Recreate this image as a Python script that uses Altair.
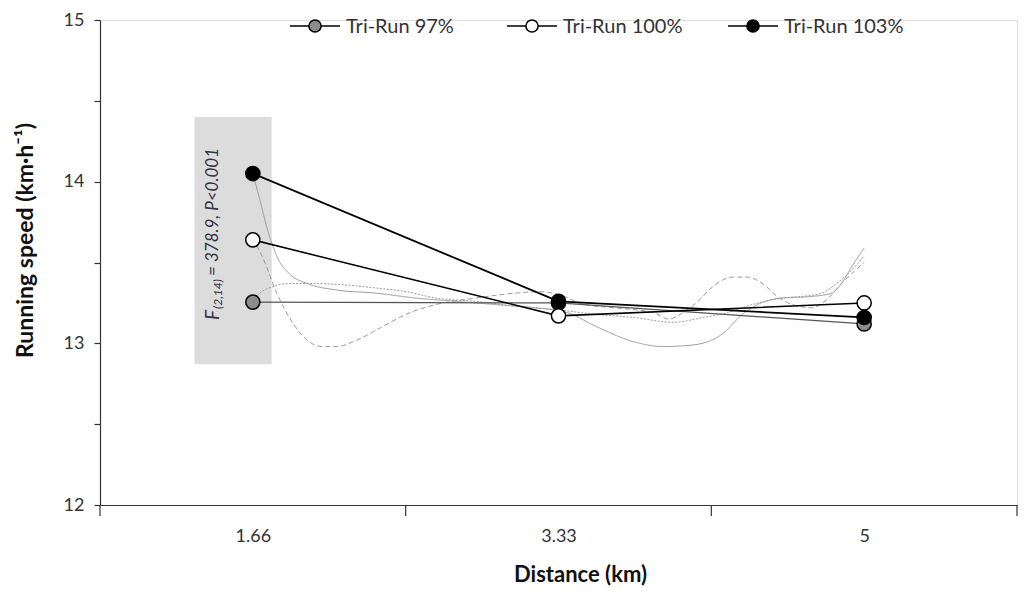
import altair as alt
import pandas as pd

FONT = "Lato"

# ---- data ----
series = ["Tri-Run 97%", "Tri-Run 100%", "Tri-Run 103%"]
dist_km = [1.66, 3.33, 5.0]
tick_labels = ["1.66", "3.33", "5"]
band_edges = [0.825, 2.495, 4.165, 5.835]
y_ticks = [12, 12.5, 13, 13.5, 14, 14.5, 15]

speed_97 = [13.255, 13.25, 13.12]
speed_100 = [13.64, 13.17, 13.25]
speed_103 = [14.05, 13.26, 13.16]

marker_fills = ["#8c8c8c", "#ffffff", "#000000"]
line_colors = ["#555555", "#000000", "#000000"]
line_widths = [1.3, 1.8, 1.8]

# thin individual-pace traces
trace_103_km = [1.66, 1.698, 1.741, 1.795, 1.860, 1.957, 2.119, 2.336, 2.552, 2.768, 2.984, 3.200,
                3.379, 3.525, 3.741, 3.903, 4.065, 4.227, 4.335, 4.417, 4.552, 4.714, 4.822, 4.876, 4.930, 5.0]
trace_103_v = [14.05, 13.89, 13.70, 13.53, 13.43, 13.37, 13.33, 13.31, 13.28, 13.26, 13.24, 13.22,
               13.19, 13.11, 13.01, 12.98, 12.99, 13.06, 13.18, 13.24, 13.28, 13.29, 13.31, 13.37, 13.47, 13.59]

trace_100_km = [1.66, 1.714, 1.795, 1.876, 1.957, 2.038, 2.119, 2.228, 2.363, 2.498, 2.660, 2.876,
                3.092, 3.227, 3.336, 3.471, 3.633, 3.849, 3.930, 4.011, 4.092, 4.173, 4.281, 4.362,
                4.444, 4.525, 4.606, 4.714, 4.795, 4.876, 5.0]
trace_100_v = [13.65, 13.53, 13.30, 13.13, 13.02, 12.98, 12.98, 13.02, 13.10, 13.18, 13.24, 13.28,
               13.31, 13.32, 13.30, 13.24, 13.22, 13.19, 13.15, 13.19, 13.26, 13.35, 13.41, 13.41,
               13.37, 13.29, 13.24, 13.22, 13.27, 13.37, 13.50]

trace_97_km = [1.66, 1.698, 1.768, 1.849, 1.995, 2.173, 2.352, 2.498, 2.660, 2.876, 3.092, 3.309,
               3.525, 3.741, 3.957, 4.119, 4.254, 4.389, 4.552, 4.660, 4.768, 4.849, 4.930, 5.0]
trace_97_v = [13.26, 13.31, 13.35, 13.37, 13.37, 13.36, 13.34, 13.32, 13.28, 13.26, 13.23, 13.21,
              13.18, 13.16, 13.13, 13.16, 13.19, 13.24, 13.28, 13.29, 13.31, 13.37, 13.45, 13.54]

trace_names = ["t103", "t100", "t97"]
trace_dashes = [[1, 0], [5, 3], [2, 1.5]]

# shaded statistics box
box_km = [1.341, 1.763]
box_v = [12.87, 14.40]
stat_anchor = [1.444, 13.145]

# ---- tables ----
means = pd.DataFrame({
    "series": [s for s in series for _ in dist_km],
    "order": [i for i in range(3) for _ in dist_km],
    "km": dist_km * 3,
    "v": speed_97 + speed_100 + speed_103,
})
traces = pd.DataFrame({
    "trace": ["t103"] * len(trace_103_km) + ["t100"] * len(trace_100_km) + ["t97"] * len(trace_97_km),
    "km": trace_103_km + trace_100_km + trace_97_km,
    "v": trace_103_v + trace_100_v + trace_97_v,
})
box = pd.DataFrame({"x1": [box_km[0]], "x2": [box_km[1]], "y1": [box_v[0]], "y2": [box_v[1]]})
edges = pd.DataFrame({"km": band_edges})
anchor = pd.DataFrame({"km": [stat_anchor[0]], "v": [stat_anchor[1]]})
one_row = pd.DataFrame({"k": [0]})

W, H = 917, 485
xscale = alt.Scale(domain=[band_edges[0], band_edges[-1]], nice=False, zero=False)
yscale = alt.Scale(domain=[y_ticks[0], y_ticks[-1]], nice=False, zero=False)

label_expr = " : ".join(
    f"datum.value < {v + 0.1} ? '{t}'" for v, t in zip(dist_km[:-1], tick_labels[:-1])
) + f" : '{tick_labels[-1]}'"

x_axis = alt.Axis(
    values=dist_km, labelExpr=label_expr, ticks=False, grid=False,
    domainColor="#333333", domainWidth=1.2,
    labelFont=FONT, labelFontSize=18, labelColor="#333333", labelPadding=22,
    title="Distance (km)", titleFont=FONT, titleFontSize=22, titleFontWeight="bold",
    titleColor="#111111", titleX=480, titleY=69, titleBaseline="middle",
)
y_axis = alt.Axis(
    values=y_ticks, labelExpr="datum.value % 1 === 0 ? toString(datum.value) : ''",
    labelOverlap=False, grid=False, tickSize=6, tickColor="#333333", tickWidth=1.2,
    domainColor="#333333", domainWidth=1.2,
    labelFont=FONT, labelFontSize=18, labelColor="#333333", labelPadding=10,
    title="Running speed (km·h⁻¹)", titleFont=FONT, titleFontSize=23, titleFontWeight="bold",
    titleColor="#111111", titleX=-75, titleY=220, titleBaseline="middle", titleAngle=270,
)

def X(field):
    return alt.X(field, type="quantitative", scale=xscale, axis=x_axis)

def Y(field):
    return alt.Y(field, type="quantitative", scale=yscale, axis=y_axis)

rect = alt.Chart(box).mark_rect(color="#dcdcdc").encode(
    x=X("x1"), x2="x2", y=Y("y1"), y2="y2"
)

thin = alt.Chart(traces).mark_line(interpolate="monotone", strokeWidth=1, color="#9a9a9a").encode(
    x=X("km"), y=Y("v"),
    strokeDash=alt.StrokeDash("trace:N", scale=alt.Scale(domain=trace_names, range=trace_dashes), legend=None),
    detail="trace:N",
)

lines = alt.Chart(means).mark_line().encode(
    x=X("km"), y=Y("v"),
    stroke=alt.Stroke("series:N", scale=alt.Scale(domain=series, range=line_colors), legend=None),
    strokeWidth=alt.StrokeWidth("series:N", scale=alt.Scale(domain=series, range=line_widths), legend=None),
    detail="series:N",
)

points = alt.Chart(means).mark_point(
    shape="circle", filled=True, size=200, stroke="black", strokeWidth=1.5, opacity=1
).encode(
    x=X("km"), y=Y("v"),
    fill=alt.Fill("series:N", scale=alt.Scale(domain=series, range=marker_fills), legend=None),
    order=alt.Order("order:Q"),
)

ticks = alt.Chart(edges).mark_rule(color="#333333", strokeWidth=1.2).encode(
    x=X("km"), y=alt.value(H), y2=alt.value(H + 11)
)

txt_common = dict(angle=270, align="left", baseline="middle", font=FONT, fontStyle="italic", color="#333344")
t_f = alt.Chart(anchor).mark_text(fontSize=19, **txt_common).encode(x=X("km"), y=Y("v"), text=alt.value("F"))
t_sub = alt.Chart(anchor).mark_text(fontSize=12, dx=11, dy=5, **txt_common).encode(
    x=X("km"), y=Y("v"), text=alt.value("(2,14)"))
t_rest = alt.Chart(anchor).mark_text(fontSize=17, dx=44, **txt_common).encode(
    x=X("km"), y=Y("v"), text=alt.value("= 378.9, P<0.001"))

# ---- legend (drawn inside the plot, top) ----
legend_centers = [215, 432, 653]   # symbol centre, px from plot left
legend_y = 6
legend_layers = []
for name, fill, cx in zip(series, marker_fills, legend_centers):
    legend_layers.append(
        alt.Chart(one_row).mark_rule(color="black", strokeWidth=1.5).encode(
            x=alt.value(cx - 25), x2=alt.value(cx + 25), y=alt.value(legend_y))
    )
    legend_layers.append(
        alt.Chart(one_row).mark_point(shape="circle", filled=True, size=150, fill=fill,
                                      stroke="black", strokeWidth=1.5, opacity=1).encode(
            x=alt.value(cx), y=alt.value(legend_y))
    )
    legend_layers.append(
        alt.Chart(one_row).mark_text(align="left", baseline="middle", font=FONT, fontSize=20,
                                     fontWeight="normal", color="#333333", text=name).encode(
            x=alt.value(cx + 31), y=alt.value(legend_y + 1))
    )

chart = alt.layer(rect, thin, lines, points, ticks, t_f, t_sub, t_rest, *legend_layers).properties(
    width=W, height=H,
    autosize=alt.AutoSizeParams(type="none"),
    padding={"left": 92, "top": 12, "right": 2, "bottom": 82},
).configure_view(stroke=None).configure(background="white")

chart.save("out.html", embed_options={"renderer": "svg", "actions": False})
